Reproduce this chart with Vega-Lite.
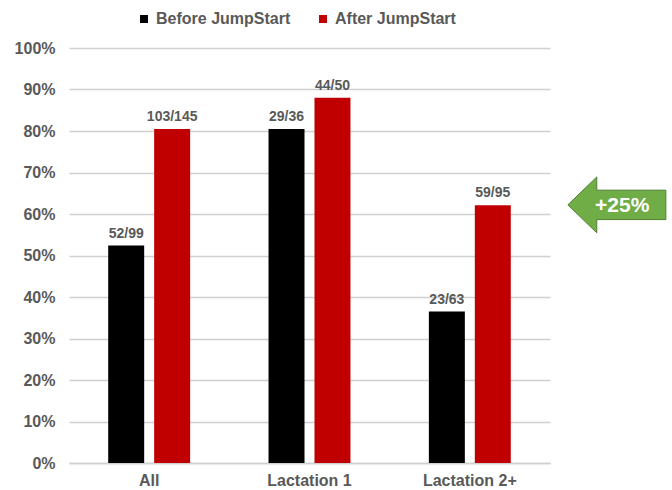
{
  "$schema": "https://vega.github.io/schema/vega-lite/v6.json",
  "width": 481,
  "height": 415,
  "autosize": "none",
  "padding": {"left": 69, "top": 48, "right": 122, "bottom": 27},
  "background": "white",
  "config": {"view": {"stroke": null}, "font": "Liberation Sans"},
  "data": {
    "values": [
      {"group": "All", "period": "Before JumpStart", "value": 0.524, "label": "52/99"},
      {"group": "All", "period": "After JumpStart", "value": 0.805, "label": "103/145"},
      {"group": "Lactation 1", "period": "Before JumpStart", "value": 0.805, "label": "29/36"},
      {"group": "Lactation 1", "period": "After JumpStart", "value": 0.88, "label": "44/50"},
      {"group": "Lactation 2+", "period": "Before JumpStart", "value": 0.365, "label": "23/63"},
      {"group": "Lactation 2+", "period": "After JumpStart", "value": 0.621, "label": "59/95"}
    ]
  },
  "layer": [
    {
      "layer": [
        {
          "mark": {"type": "bar"},
          "encoding": {
            "x": {
              "field": "group", "type": "nominal",
              "sort": ["All", "Lactation 1", "Lactation 2+"],
              "scale": {"paddingInner": 0.489, "paddingOuter": 0.2445},
              "axis": {
                "title": null, "labelAngle": 0, "ticks": false, "tickSize": 0,
                "labelPadding": 9, "labelFontSize": 16, "labelFontWeight": "bold",
                "labelColor": "#595959", "labelFont": "Liberation Sans",
                "domainColor": "#D0D0D0", "domainWidth": 1.3, "grid": false
              }
            },
            "xOffset": {
              "field": "period", "type": "nominal",
              "sort": ["Before JumpStart", "After JumpStart"],
              "scale": {"paddingInner": 0.217, "paddingOuter": 0}
            },
            "y": {
              "field": "value", "type": "quantitative",
              "scale": {"domain": [0, 1], "nice": false},
              "axis": {
                "title": null,
                "values": [0, 0.1, 0.2, 0.3, 0.4, 0.5, 0.6, 0.7, 0.8, 0.9, 1],
                "format": ".0%", "ticks": false, "tickSize": 0, "domain": false,
                "labelPadding": 14, "labelFontSize": 16, "labelFontWeight": "bold",
                "labelColor": "#595959", "labelFont": "Liberation Sans",
                "gridColor": "#D0D0D0", "gridWidth": 1.3
              }
            },
            "color": {
              "field": "period", "type": "nominal",
              "scale": {"domain": ["Before JumpStart", "After JumpStart"], "range": ["#000000", "#C00000"]},
              "legend": {
                "title": null, "orient": "none", "direction": "horizontal",
                "legendX": 67, "legendY": -37,
                "symbolType": "square", "symbolSize": 64, "symbolStrokeWidth": 0,
                "labelFontSize": 16, "labelFontWeight": "bold", "labelColor": "#595959",
                "labelFont": "Liberation Sans",
                "labelOffset": 4, "columnPadding": 24, "padding": 0
              }
            }
          }
        },
        {
          "mark": {
            "type": "text", "baseline": "alphabetic", "align": "center", "dy": -8,
            "fontSize": 14, "fontWeight": "bold", "fill": "#595959", "font": "Liberation Sans"
          },
          "encoding": {
            "x": {"field": "group", "type": "nominal", "sort": ["All", "Lactation 1", "Lactation 2+"]},
            "xOffset": {"field": "period", "type": "nominal", "sort": ["Before JumpStart", "After JumpStart"]},
            "y": {"field": "value", "type": "quantitative"},
            "text": {"field": "label"}
          }
        }
      ]
    },
    {
      "data": {"values": [{"label": "+25%"}]},
      "layer": [
        {
          "mark": {
            "type": "point",
            "shape": "M-1,0 L-0.41,-0.57 L-0.41,-0.3 L1,-0.3 L1,0.3 L-0.41,0.3 L-0.41,0.57 Z",
            "size": 9604, "filled": true, "fill": "#70AD47", "stroke": "#507E32",
            "strokeWidth": 1, "opacity": 1
          },
          "encoding": {
            "x": {"datum": 1.139, "type": "quantitative", "scale": {"domain": [0, 1]}, "axis": null},
            "y": {"datum": 0.622, "type": "quantitative"}
          }
        },
        {
          "mark": {
            "type": "text", "baseline": "middle", "align": "center",
            "fontSize": 21, "fontWeight": "bold", "fill": "white", "font": "Liberation Sans"
          },
          "encoding": {
            "x": {"datum": 1.15, "type": "quantitative"},
            "y": {"datum": 0.619, "type": "quantitative"},
            "text": {"field": "label"}
          }
        }
      ]
    }
  ],
  "resolve": {"scale": {"x": "independent"}}
}
